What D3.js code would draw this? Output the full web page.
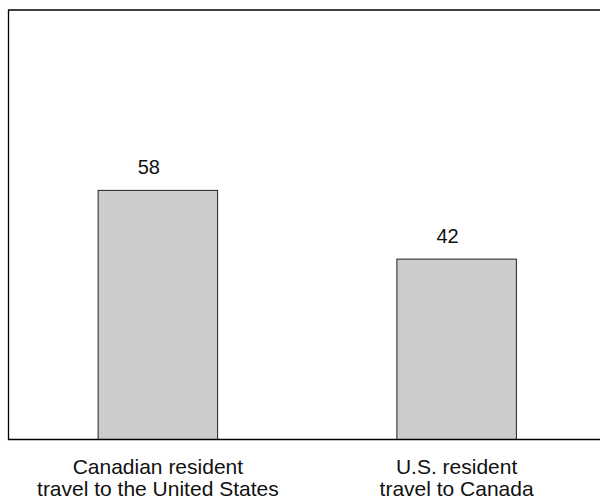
<!DOCTYPE html>
<html>
<head>
<meta charset="utf-8">
<script src="https://cdn.jsdelivr.net/npm/d3@7"></script>
<style>
  html, body { margin: 0; padding: 0; background: #fff; }
  svg { display: block; font-family: "Liberation Sans", Arial, sans-serif; }
</style>
</head>
<body>
<svg id="chart" width="600" height="500"></svg>
<script>
const categories = [
  ["Canadian resident", "travel to the United States"],
  ["U.S. resident", "travel to Canada"]
];
const categoryKeys = ["ca_to_us", "us_to_ca"];
const values = [58, 42];
const valueLabels = ["58", "42"];

const svg = d3.select("#chart");
const plotLeft = 8.5, plotTop = 10, plotBottom = 439.5, plotRight = 600;

const x = d3.scaleBand().domain(categoryKeys).range([plotLeft, 606]).paddingInner(0.6).paddingOuter(0.3);
const y = d3.scaleLinear().domain([0, 100]).range([plotBottom, plotTop]);

// bars
svg.selectAll("rect.bar").data(values).enter().append("rect")
  .attr("class", "bar")
  .attr("x", (d, i) => x(categoryKeys[i]))
  .attr("y", d => y(d))
  .attr("width", x.bandwidth())
  .attr("height", d => y(0) - y(d))
  .attr("fill", "#cccccc")
  .attr("stroke", "#222")
  .attr("stroke-width", 1);

// frame (top, left, bottom)
svg.append("path")
  .attr("d", `M${plotRight},${plotTop}H${plotLeft}V${plotBottom}H${plotRight}`)
  .attr("fill", "none")
  .attr("stroke", "#000")
  .attr("stroke-width", 1.3);

// value labels
svg.selectAll("text.val").data(values).enter().append("text")
  .attr("class", "val")
  .attr("x", (d, i) => x(categoryKeys[i]) + x.bandwidth() / 2 - 9)
  .attr("y", d => y(d) - 16.5)
  .attr("text-anchor", "middle")
  .attr("font-size", 20)
  .attr("fill", "#111")
  .text((d, i) => valueLabels[i]);

// category labels
categories.forEach((lines, i) => {
  const t = svg.append("text")
    .attr("text-anchor", "middle")
    .attr("font-size", 21)
    .attr("fill", "#111");
  lines.forEach((ln, j) => {
    t.append("tspan")
      .attr("x", x(categoryKeys[i]) + x.bandwidth() / 2)
      .attr("y", 473.5 + j * 22.5)
      .text(ln);
  });
});
</script>
</body>
</html>
